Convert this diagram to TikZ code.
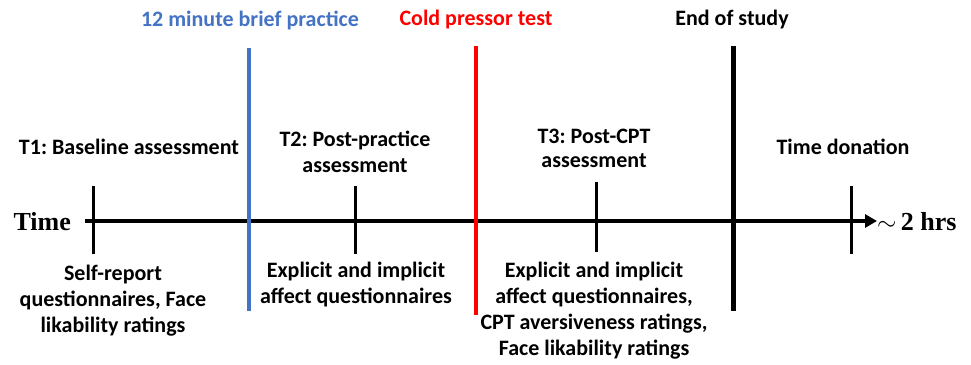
\documentclass[tikz,border=0pt]{standalone}
\usepackage{fontspec}
\setmainfont{Carlito}
\newfontfamily\timesfont{Liberation Serif}
\usetikzlibrary{arrows.meta}
\definecolor{myblue}{RGB}{68,114,196}
\definecolor{myred}{RGB}{255,0,0}
\frenchspacing
\tikzset{
  lbl/.style={font=\fontsize{22}{26}\selectfont\bfseries, align=center, inner sep=0pt},
  tick/.style={line width=3pt},
  axisline/.style={line width=4.4pt, -{Triangle[length=12pt,width=13pt]}},
}
\begin{document}
\begin{tikzpicture}[x=1pt,y=-1pt]
\useasboundingbox (0,0) rectangle (971,364);
% axis
\coordinate (a0) at (85,221);
\coordinate (a1) at (877,221);
\draw[axisline] (a0) -- (a1);
\node[font=\timesfont\fontsize{26}{28}\selectfont\bfseries, anchor=east, inner sep=0pt] (time) at (71,222) {Time};
\node[font=\timesfont\fontsize{26}{28}\selectfont\bfseries, anchor=west, inner sep=0pt] (hrs) at (877,222) {$\sim$\,2 hrs};
% ticks
\coordinate (t1a) at (93,186); \coordinate (t1b) at (93,254);
\coordinate (t2a) at (355,186); \coordinate (t2b) at (355,254);
\coordinate (t3a) at (596,182); \coordinate (t3b) at (596,252);
\coordinate (t4a) at (851,186); \coordinate (t4b) at (851,254);
\draw[tick] (t1a) -- (t1b);
\draw[tick] (t2a) -- (t2b);
\draw[tick] (t3a) -- (t3b);
\draw[tick] (t4a) -- (t4b);
% event lines
\coordinate (bla) at (249,48); \coordinate (blb) at (249,311);
\coordinate (rda) at (476,46); \coordinate (rdb) at (476,315);
\coordinate (eda) at (733,46); \coordinate (edb) at (733,311);
\draw[line width=3.4pt, myblue] (bla) -- (blb);
\draw[line width=3.4pt, myred] (rda) -- (rdb);
\draw[line width=5pt, black] (eda) -- (edb);
% top labels
\node[lbl, text=myblue] (lblue) at (250,20) {12 minute brief practice};
\node[lbl, text=myred] (lred) at (476,20) {Cold pressor test};
\node[lbl] (lend) at (732,20) {End of study};
% upper labels
\node[lbl] (T1) at (129,147) {T1: Baseline assessment};
\node[lbl, font=\fontsize{22}{26}\selectfont\bfseries] (T2) at (355,152) {T2: Post-practice\\assessment};
\node[lbl, font=\fontsize{22}{24}\selectfont\bfseries] (T3) at (594,148) {T3: Post-CPT\\assessment};
\node[lbl] (TD) at (843,147) {Time donation};
% lower labels
\node[lbl, anchor=north] (B1) at (113,265) {Self-report\\questionnaires, Face\\likability ratings};
\node[lbl, anchor=north] (B2) at (356,262) {Explicit and implicit\\affect questionnaires};
\node[lbl, anchor=north] (B3) at (594,262) {Explicit and implicit\\affect questionnaires,\\CPT aversiveness ratings,\\Face likability ratings};
\end{tikzpicture}
\end{document}
